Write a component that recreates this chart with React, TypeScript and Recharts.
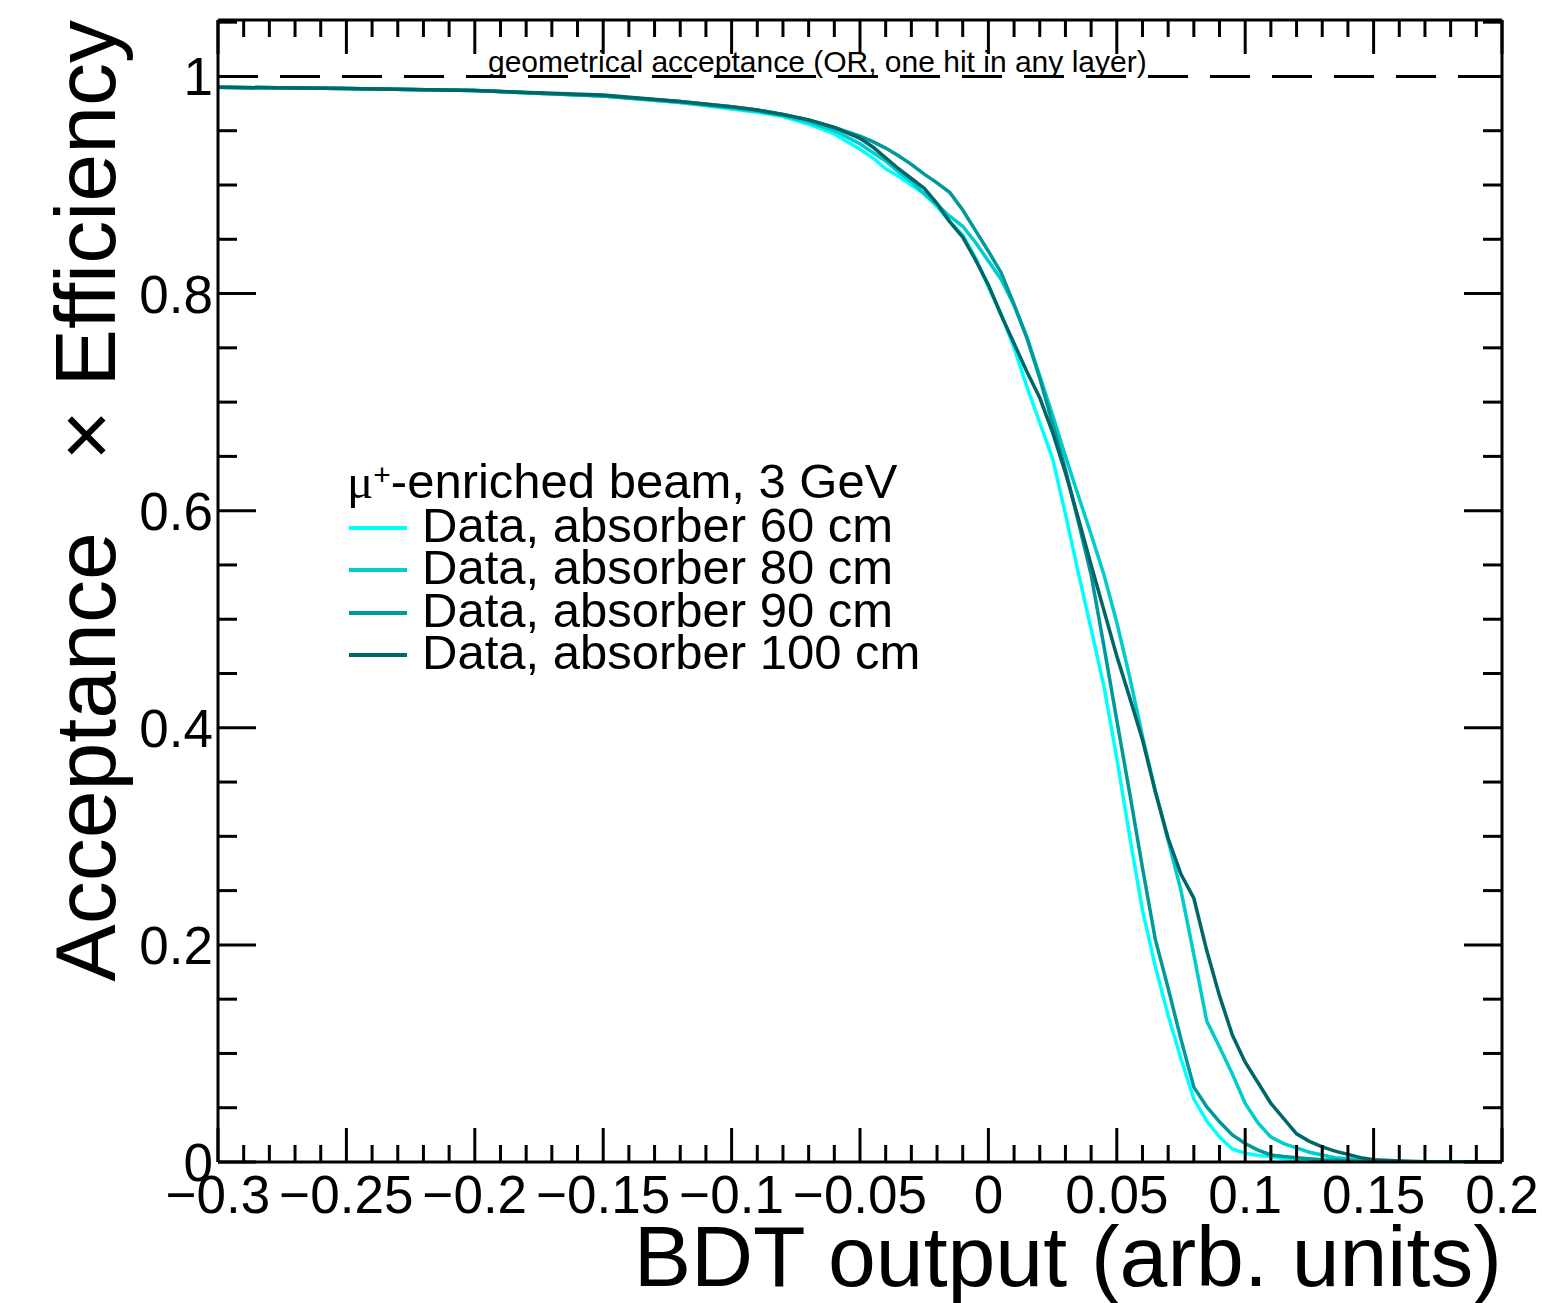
import React from "react";
import {
  LineChart,
  Line,
  XAxis,
  YAxis,
  ReferenceLine,
  Legend,
  Label,
} from "recharts";

// BDT output bins (x) and acceptance x efficiency per absorber thickness
const bdtOutput = [
  -0.3, -0.25, -0.2, -0.15, -0.12, -0.1, -0.09, -0.08, -0.07, -0.06,
  -0.05, -0.045, -0.04, -0.035, -0.03, -0.025, -0.02, -0.015, -0.01, -0.005,
  0, 0.005, 0.01, 0.015, 0.02, 0.025, 0.03, 0.035, 0.04, 0.045,
  0.05, 0.055, 0.06, 0.065, 0.07, 0.075, 0.08, 0.085, 0.09, 0.095,
  0.1, 0.105, 0.11, 0.115, 0.12, 0.125, 0.13, 0.135, 0.14, 0.145,
  0.15, 0.16, 0.17, 0.18, 0.19, 0.2,
];

const eff60 = [
  0.99, 0.989, 0.987, 0.982, 0.976, 0.97, 0.967, 0.963, 0.956, 0.947,
  0.933, 0.925, 0.915, 0.908, 0.9, 0.892, 0.88, 0.866, 0.854, 0.833,
  0.806, 0.781, 0.75, 0.714, 0.681, 0.648, 0.597, 0.543, 0.491, 0.438,
  0.372, 0.3, 0.232, 0.18, 0.135, 0.095, 0.058, 0.038, 0.023, 0.012,
  0.008, 0.006, 0.005, 0.003, 0.002, 0.0015, 0.001, 0.0008, 0.0005, 0.0003,
  0.0002, 0.0001, 0, 0, 0, 0,
];

const eff80 = [
  0.99, 0.989, 0.987, 0.982, 0.976, 0.971, 0.968, 0.964, 0.958, 0.95,
  0.938, 0.93, 0.922, 0.912, 0.903, 0.892, 0.882, 0.871, 0.862, 0.847,
  0.83, 0.813, 0.789, 0.76, 0.724, 0.688, 0.65, 0.614, 0.578, 0.541,
  0.497, 0.447, 0.392, 0.342, 0.296, 0.25, 0.191, 0.13, 0.106, 0.081,
  0.054, 0.036, 0.023, 0.017, 0.013, 0.009, 0.0065, 0.004, 0.003, 0.002,
  0.001, 0.0005, 0.0002, 0, 0, 0,
];

const eff90 = [
  0.99, 0.989, 0.987, 0.982, 0.977, 0.972, 0.969, 0.965, 0.96, 0.953,
  0.945, 0.94, 0.934, 0.927, 0.919, 0.91, 0.902, 0.893, 0.877, 0.858,
  0.839, 0.819, 0.79, 0.759, 0.722, 0.68, 0.638, 0.59, 0.541, 0.475,
  0.407, 0.34, 0.271, 0.205, 0.16, 0.113, 0.069, 0.051, 0.037, 0.025,
  0.017, 0.011, 0.0065, 0.005, 0.004, 0.003, 0.002, 0.0015, 0.001, 0.0007,
  0.0005, 0.0002, 0, 0, 0, 0,
];

const eff100 = [
  0.99, 0.989, 0.987, 0.983, 0.977, 0.972, 0.969, 0.965, 0.96, 0.953,
  0.943, 0.935, 0.925, 0.915, 0.906, 0.897, 0.883, 0.866, 0.852, 0.831,
  0.808, 0.78, 0.754, 0.728, 0.704, 0.672, 0.635, 0.593, 0.55, 0.508,
  0.466, 0.428, 0.389, 0.341, 0.298, 0.265, 0.243, 0.195, 0.153, 0.117,
  0.092, 0.073, 0.054, 0.04, 0.026, 0.019, 0.014, 0.01, 0.007, 0.004,
  0.002, 0.001, 0.0003, 0, 0, 0,
];

const xMajorTicks = [-0.3, -0.25, -0.2, -0.15, -0.1, -0.05, 0, 0.05, 0.1, 0.15, 0.2];
const xTickLabels = ["\u22120.3", "\u22120.25", "\u22120.2", "\u22120.15", "\u22120.1", "\u22120.05", "0", "0.05", "0.1", "0.15", "0.2"];
const yMajorTicks = [0, 0.2, 0.4, 0.6, 0.8, 1];
const yTickLabels = ["0", "0.2", "0.4", "0.6", "0.8", "1"];

const series = [
  { key: "e60", label: "Data, absorber 60 cm", color: "#00ffff" },
  { key: "e80", label: "Data, absorber 80 cm", color: "#00cccc" },
  { key: "e90", label: "Data, absorber 90 cm", color: "#009999" },
  { key: "e100", label: "Data, absorber 100 cm", color: "#006666" },
];

const data = bdtOutput.map((x, i) => ({
  x,
  e60: eff60[i],
  e80: eff80[i],
  e90: eff90[i],
  e100: eff100[i],
}));

// minor ticks every 0.01 on x, every 0.05 on y
const xTicks = Array.from({ length: 51 }, (_, i) => Math.round((-0.3 + i * 0.01) * 1000) / 1000);
const yTicks = Array.from({ length: 22 }, (_, i) => Math.round(i * 0.05 * 1000) / 1000);

const FONT = '"Liberation Sans", Arial, Helvetica, sans-serif';
const X_MAJOR = 34;
const Y_MAJOR = 38;
const PLOT = { left: 218, top: 20, right: 1502, bottom: 1162 };

function majorIndex(v: number, list: number[]) {
  return list.findIndex((m) => Math.abs(m - v) < 1e-6);
}

function BottomTick({ x, y, payload }: any) {
  const idx = majorIndex(payload.value, xMajorTicks);
  const len = idx >= 0 ? X_MAJOR : X_MAJOR / 2;
  return (
    <g>
      <line x1={x} x2={x} y1={y} y2={y - len} stroke="#000" strokeWidth={3} />
      {idx >= 0 && (
        <text x={x} y={y + 51} textAnchor="middle" fontSize={53} fontFamily={FONT} fill="#000">
          {xTickLabels[idx]}
        </text>
      )}
    </g>
  );
}

// top frame ticks: drawn from the frame edge inward
function TopTick({ x, payload }: any) {
  const idx = majorIndex(payload.value, xMajorTicks);
  const len = idx >= 0 ? X_MAJOR : X_MAJOR / 2;
  return <line x1={x} x2={x} y1={PLOT.top} y2={PLOT.top + len} stroke="#000" strokeWidth={3} />;
}

function LeftTick({ x, y, payload }: any) {
  const idx = majorIndex(payload.value, yMajorTicks);
  const len = idx >= 0 ? Y_MAJOR : Y_MAJOR / 2;
  return (
    <g>
      <line x1={x} x2={x + len} y1={y} y2={y} stroke="#000" strokeWidth={3} />
      {idx >= 0 && (
        <text x={x - 5} y={y + 19} textAnchor="end" fontSize={53} fontFamily={FONT} fill="#000">
          {yTickLabels[idx]}
        </text>
      )}
    </g>
  );
}

function RightTick({ y, payload }: any) {
  const idx = majorIndex(payload.value, yMajorTicks);
  const len = idx >= 0 ? Y_MAJOR : Y_MAJOR / 2;
  return <line x1={PLOT.right} x2={PLOT.right - len} y1={y} y2={y} stroke="#000" strokeWidth={3} />;
}

function XTitle({ viewBox }: any) {
  return (
    <text x={PLOT.right} y={PLOT.bottom + 124} textAnchor="end" fontSize={86} fontFamily={FONT} fill="#000">
      BDT output (arb. units)
    </text>
  );
}

function YTitle() {
  const x = 115;
  const y = PLOT.top;
  return (
    <text
      x={x}
      y={y}
      transform={`rotate(-90 ${x} ${y})`}
      textAnchor="end"
      fontSize={86}
      fontFamily={FONT}
      fill="#000"
      style={{ whiteSpace: "pre" }}
    >
      {"Acceptance   \u00d7 Efficiency"}
    </text>
  );
}

function AcceptanceLabel({ viewBox }: any) {
  return (
    <text x={viewBox.x + 270} y={viewBox.y - 4} fontSize={30} fontFamily={FONT} fill="#000">
      geometrical acceptance (OR, one hit in any layer)
    </text>
  );
}

function LegendBox() {
  return (
    <div style={{ fontFamily: FONT, fontSize: 49, lineHeight: "42.5px", color: "#000", whiteSpace: "nowrap" }}>
      <div>
        <span style={{ fontFamily: '"Liberation Serif", serif' }}>{"\u03bc"}</span>
        <span style={{ fontSize: 30, verticalAlign: "top", lineHeight: "30px" }}>+</span>
        -enriched beam, 3 GeV
      </div>
      {series.map((s) => (
        <div key={s.key} style={{ display: "flex", alignItems: "center" }}>
          <span
            style={{
              display: "inline-block",
              width: 58,
              height: 4,
              marginLeft: 2,
              marginRight: 15,
              marginTop: 6,
              background: s.color,
            }}
          />
          {s.label}
        </div>
      ))}
    </div>
  );
}

export default function App() {
  return (
    <div style={{ position: "absolute", left: 0, top: 0, background: "#fff" }}>
      <LineChart width={1542} height={1303} data={data} margin={{ top: 20, right: 40, bottom: 0, left: 0 }}>
        <XAxis
          dataKey="x"
          type="number"
          domain={[-0.3, 0.2]}
          allowDataOverflow
          ticks={xTicks}
          interval={0}
          tickSize={0}
          tickMargin={0}
          tickLine={false}
          tick={<BottomTick />}
          axisLine={{ stroke: "#000", strokeWidth: 3 }}
          height={141}
        >
          <Label content={<XTitle />} />
        </XAxis>
        <XAxis
          xAxisId="top"
          dataKey="x"
          type="number"
          orientation="top"
          mirror
          domain={[-0.3, 0.2]}
          allowDataOverflow
          ticks={xTicks}
          interval={0}
          tickSize={0}
          tickMargin={0}
          tickLine={false}
          tick={<TopTick />}
          axisLine={false}
          height={2}
        />
        <YAxis
          type="number"
          domain={[0, 1.052]}
          allowDataOverflow
          ticks={yTicks}
          interval={0}
          tickSize={0}
          tickMargin={0}
          tickLine={false}
          tick={<LeftTick />}
          axisLine={{ stroke: "#000", strokeWidth: 3 }}
          width={218}
        >
          <Label content={<YTitle />} />
        </YAxis>
        <YAxis
          yAxisId="right"
          type="number"
          orientation="right"
          mirror
          domain={[0, 1.052]}
          allowDataOverflow
          ticks={yTicks}
          interval={0}
          tickSize={0}
          tickMargin={0}
          tickLine={false}
          tick={<RightTick />}
          axisLine={false}
          width={2}
        />
        {/* frame: top and right edges */}
        <ReferenceLine y={1.052} stroke="#000" strokeWidth={3} ifOverflow="visible" />
        <ReferenceLine x={0.2} stroke="#000" strokeWidth={3} ifOverflow="visible" />
        <ReferenceLine
          y={1}
          stroke="#000"
          strokeWidth={3}
          strokeDasharray="40 22"
          label={<AcceptanceLabel />}
        />
        {series.map((s) => (
          <Line
            key={s.key}
            type="linear"
            dataKey={s.key}
            stroke={s.color}
            strokeWidth={3.5}
            dot={false}
            activeDot={false}
            isAnimationActive={false}
          />
        ))}
        <Legend
          layout="horizontal"
          verticalAlign="middle"
          align="center"
          content={<LegendBox />}
          wrapperStyle={{ left: 347, top: 460, width: 700, height: 220 }}
        />
      </LineChart>
    </div>
  );
}
